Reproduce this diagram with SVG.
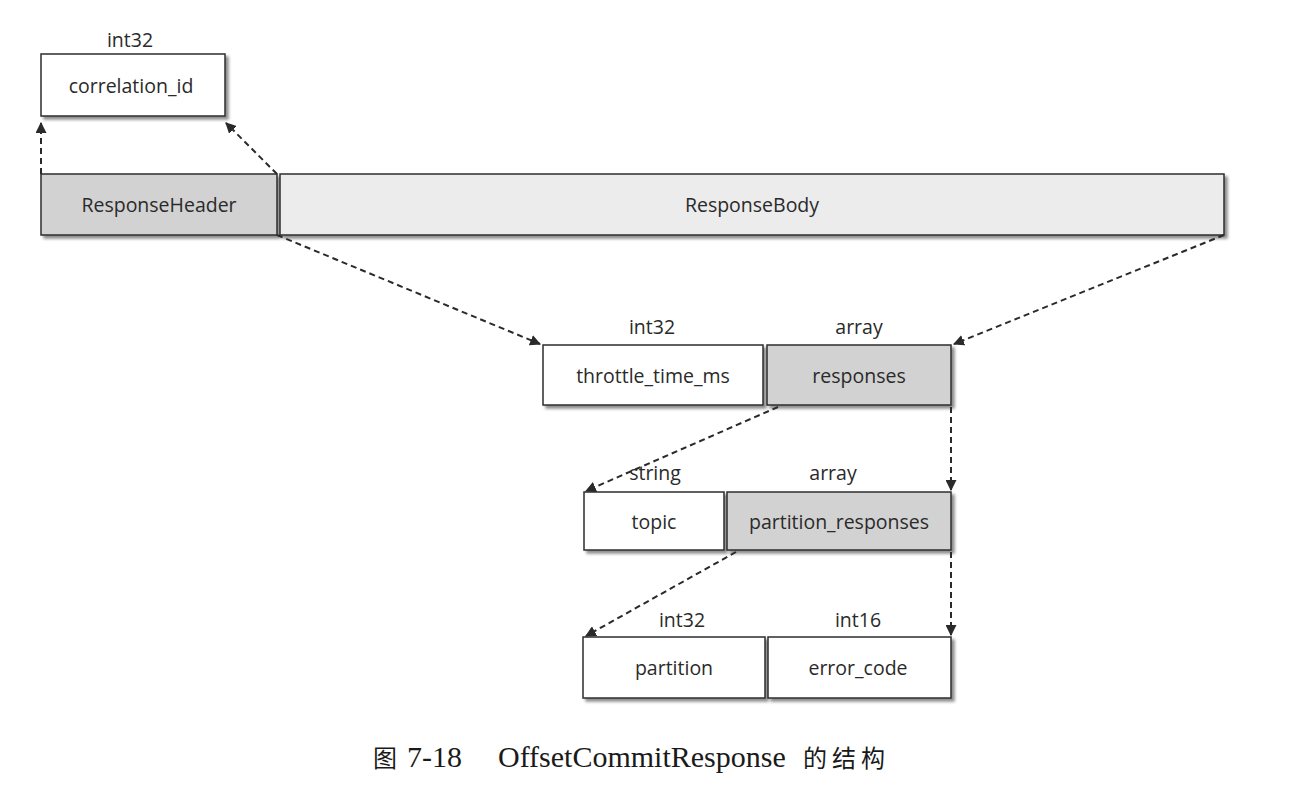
<svg xmlns="http://www.w3.org/2000/svg" width="1292" height="794" viewBox="0 0 1292 794">
<defs>
<marker id="ah" viewBox="0 0 10 10" refX="9" refY="5" markerWidth="11" markerHeight="11" markerUnits="userSpaceOnUse" orient="auto">
<path d="M0,0 L10,5 L0,10 z" fill="#2a2a2a"/>
</marker>
<filter id="sh" x="-5%" y="-10%" width="115%" height="130%">
<feGaussianBlur in="SourceAlpha" stdDeviation="1.5"/>
<feOffset dx="3" dy="3" result="b"/>
<feComponentTransfer><feFuncA type="linear" slope="0.45"/></feComponentTransfer>
<feMerge><feMergeNode/><feMergeNode in="SourceGraphic"/></feMerge>
</filter>
</defs>
<style>
.box{stroke:#2e2e2e;stroke-width:1.5;filter:url(#sh)}
.w{fill:#ffffff}
.g{fill:#d2d2d2}
.lg{fill:#ececec}
.t{font-family:"Open Sans","Liberation Sans",Arial,sans-serif;font-size:19.5px;fill:#2a2a2a;text-anchor:middle}
.conn{stroke:#2a2a2a;stroke-width:2;stroke-dasharray:6,4;fill:none;marker-end:url(#ah)}
.cap{font-family:"Liberation Serif","Noto Sans CJK SC",serif;font-size:30px;fill:#1a1a1a}
.cj{font-family:"Noto Sans CJK SC",serif;font-size:24px;letter-spacing:5px}
</style>
<rect width="1292" height="794" fill="#ffffff"/>
<g id="correlation_id">
<rect class="box w" x="41" y="54" width="184" height="62"/>
<text class="t" x="130" y="47">int32</text>
<text class="t" x="131" y="93">correlation_id</text>
</g>
<g id="ResponseHeader">
<rect class="box g" x="41" y="174" width="236" height="61"/>
<text class="t" x="159" y="212">ResponseHeader</text>
</g>
<g id="ResponseBody">
<rect class="box lg" x="280" y="174" width="944" height="61"/>
<text class="t" x="752" y="212">ResponseBody</text>
</g>
<g id="throttle_time_ms">
<rect class="box w" x="543" y="345" width="220" height="60"/>
<text class="t" x="652" y="334">int32</text>
<text class="t" x="653" y="383">throttle_time_ms</text>
</g>
<g id="responses">
<rect class="box g" x="767" y="345" width="184" height="60"/>
<text class="t" x="859" y="334">array</text>
<text class="t" x="859" y="383">responses</text>
</g>
<g id="topic">
<rect class="box w" x="584" y="492" width="140" height="58"/>
<text class="t" x="655" y="480">string</text>
<text class="t" x="654" y="529">topic</text>
</g>
<g id="partition_responses">
<rect class="box g" x="727" y="492" width="224" height="58"/>
<text class="t" x="833" y="480">array</text>
<text class="t" x="839" y="529">partition_responses</text>
</g>
<g id="partition">
<rect class="box w" x="583" y="637" width="182" height="61"/>
<text class="t" x="682" y="627">int32</text>
<text class="t" x="674" y="675">partition</text>
</g>
<g id="error_code">
<rect class="box w" x="768" y="637" width="183" height="61"/>
<text class="t" x="858" y="627">int16</text>
<text class="t" x="858" y="675">error_code</text>
</g>
<g id="connectors">
<path class="conn" d="M41,174 L41,123"/>
<path class="conn" d="M277,174 L226,123"/>
<path class="conn" d="M277,235 L540,344"/>
<path class="conn" d="M1224,235 L954,344"/>
<path class="conn" d="M778,407 L586,491"/>
<path class="conn" d="M951,407 L951,490"/>
<path class="conn" d="M736,552 L586,636"/>
<path class="conn" d="M951,552 L951,635"/>
</g>
<text class="cap" y="767"><tspan class="cj" x="373">图</tspan><tspan x="407">7-18</tspan><tspan x="498">OffsetCommitResponse</tspan><tspan class="cj" x="803">的结构</tspan></text>
</svg>
